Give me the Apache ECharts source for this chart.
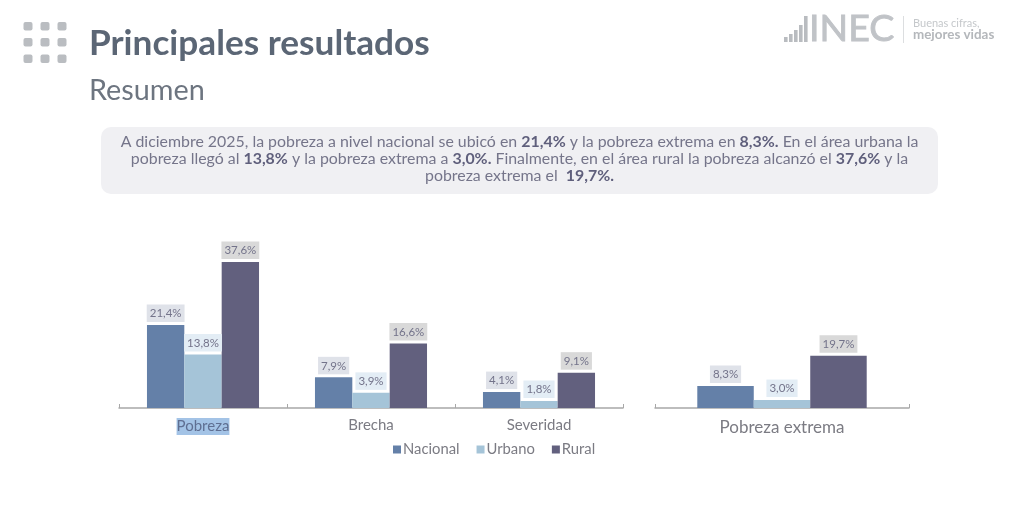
<!DOCTYPE html>
<html><head><meta charset="utf-8">
<style>html,body{margin:0;padding:0;background:#fff}#c{width:1011px;height:505px}</style>
<script src="https://cdn.jsdelivr.net/npm/echarts@6/dist/echarts.min.js"></script>
</head><body><div id="c"></div>
<script>
var seriesNames = ['Nacional','Urbano','Rural'];
var povertyCategories = ['Pobreza','Brecha','Severidad'];
var extremeCategories = ['Pobreza extrema'];
var nacional = [21.4,7.9,4.1];
var urbano = [13.8,3.9,1.8];
var rural = [37.6,16.6,9.1];
var nacionalExtrema = [8.3];
var urbanoExtrema = [3.0];
var ruralExtrema = [19.7];

var FONT = 'Lato';
var colors = ['#6480a8','#a5c4d8','#62607e'];
var labelBg = ['#dfe2e9','#e3edf5','#d9d9d9'];
var TXT = '#73738a';
var chart = echarts.init(document.getElementById('c'),null,{renderer:'canvas'});

function bar(name,data,i,axis){
  return {name:name,type:'bar',data:data,xAxisIndex:axis,yAxisIndex:axis,barGap:0,barCategoryGap:'33.3%',
    itemStyle:{color:colors[i]},
    label:{show:true,position:'top',distance:3,fontFamily:FONT,fontSize:11.5,color:TXT,
      backgroundColor:labelBg[i],padding:[3,3,2.5,3],
      formatter:function(p){return p.value.toFixed(1).replace('.',',')+'%';}}};
}
function xAxis(grid,cats,size,margin,fmt){
  return {type:'category',gridIndex:grid,data:cats,
    axisLine:{lineStyle:{color:'#a8a8a8',width:1.5}},
    axisTick:{show:true,inside:true,length:4,lineStyle:{color:'#a8a8a8',width:1}},
    axisLabel:{fontFamily:FONT,fontSize:size,color:'#7b7b83',margin:margin,interval:0,formatter:fmt,
      rich:{hl:{backgroundColor:'#a3c3e6',color:'#5f6f92',fontFamily:FONT,fontSize:size,padding:[1,0,1,0]}}}};
}
function yAxis(grid,max){
  return {type:'value',gridIndex:grid,min:0,max:max,show:false,splitLine:{show:false}};
}
function dot(x,y){return {type:'rect',shape:{x:x,y:y,width:9,height:8.5,r:2},style:{fill:'#babdc1'}};}
function logoBar(x,h){return {type:'rect',shape:{x:x,y:42-h,width:3.6,height:h},style:{fill:'#b9bcc0'}};}

var boxLines = '{n|A diciembre 2025, la pobreza a nivel nacional se ubicó en }{b|21,4%}{n| y la pobreza extrema en }{b|8,3%.}{n| En el área urbana la}\n'+
 '{n|pobreza llegó al }{b|13,8%}{n| y la pobreza extrema a }{b|3,0%.}{n| Finalmente, en el área rural la pobreza alcanzó el }{b|37,6%}{n| y la}\n'+
 '{n|pobreza extrema el  }{b|19,7%.}';
var gfx = [];
[23.5,40.5,57.5].forEach(function(x){[22,38,54.5].forEach(function(y){gfx.push(dot(x,y));});});
gfx.push({type:'text',style:{x:89,y:44,text:'Principales resultados',fontFamily:FONT,fontWeight:'bold',fontSize:35.2,fill:'#5b6675',textVerticalAlign:'middle'}});
gfx.push({type:'text',style:{x:89,y:91,text:'Resumen',fontFamily:FONT,fontSize:28.8,fill:'#6d7580',textVerticalAlign:'middle'}});
gfx.push({type:'rect',shape:{x:101,y:127,width:837,height:67,r:10},style:{fill:'#f0f0f3'}});
gfx.push({type:'text',style:{x:519.5,y:159,text:boxLines,align:'center',verticalAlign:'middle',
  rich:{n:{fontFamily:FONT,fontSize:15.9,lineHeight:17,fill:'#75758a',color:'#75758a'},b:{fontFamily:FONT,fontWeight:'bold',fontSize:15.9,lineHeight:17,fill:'#5f5f7c',color:'#5f5f7c'}}}});
[[784,5],[789,8],[794,12],[799,17],[804,26]].forEach(function(a){gfx.push(logoBar(a[0],a[1]));});
gfx.push({type:'text',style:{x:809,y:29,text:'INEC',fontFamily:FONT,fontSize:37.5,fill:'#c0c3c7',stroke:'#c0c3c7',lineWidth:0.9,textVerticalAlign:'middle'}});
gfx.push({type:'rect',shape:{x:903,y:16,width:1,height:27},style:{fill:'#dcdee0'}});
gfx.push({type:'text',style:{x:913,y:23,text:'Buenas cifras,',fontFamily:FONT,fontSize:11,fill:'#c5c8cb',textVerticalAlign:'middle'}});
gfx.push({type:'text',style:{x:913,y:34.5,text:'mejores vidas',fontFamily:FONT,fontWeight:'bold',fontSize:13.4,fill:'#b4b7bb',textVerticalAlign:'middle'}});

chart.setOption({
  animation:false,backgroundColor:'#fff',
  textStyle:{fontFamily:FONT},
  grid:[{left:119,width:504,top:252.7,height:155.3},{left:655,width:254,top:355,height:53}],
  legend:{data:seriesNames,left:393,top:442,padding:0,itemWidth:8,itemHeight:8,itemGap:17,icon:'rect',
    textStyle:{fontFamily:FONT,fontSize:14.8,color:'#7b7b83',padding:[0,0,0,-3]}},
  xAxis:[xAxis(0,povertyCategories,15,10,function(v,i){return i===0?'{hl|'+v+'}':v;}),xAxis(1,extremeCategories,17,11)],
  yAxis:[yAxis(0,40),yAxis(1,20)],
  series:[bar(seriesNames[0],nacional,0,0),bar(seriesNames[1],urbano,1,0),bar(seriesNames[2],rural,2,0),
    bar(seriesNames[0],nacionalExtrema,0,1),bar(seriesNames[1],urbanoExtrema,1,1),bar(seriesNames[2],ruralExtrema,2,1)],
  graphic:{elements:gfx}
});
</script></body></html>
